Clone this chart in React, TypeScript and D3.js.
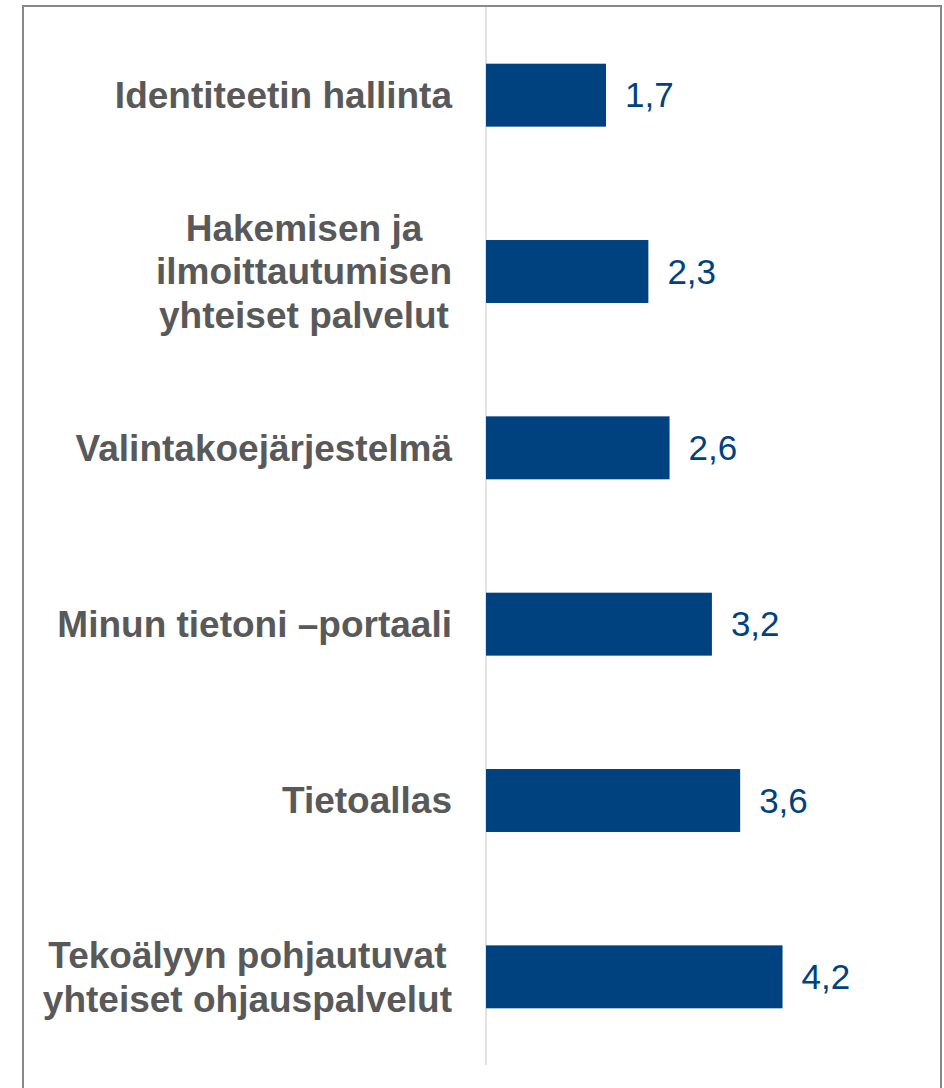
import React from "react";
import * as d3 from "d3";

const categories = [
  ["Identiteetin hallinta"],
  ["Hakemisen ja", "ilmoittautumisen", "yhteiset palvelut"],
  ["Valintakoejärjestelmä"],
  ["Minun tietoni –portaali"],
  ["Tietoallas"],
  ["Tekoälyyn pohjautuvat", "yhteiset ohjauspalvelut"],
];
const values = [1.7, 2.3, 2.6, 3.2, 3.6, 4.2];
const valueLabels = ["1,7", "2,3", "2,6", "3,2", "3,6", "4,2"];

const LABEL_FONT = "bold 37px 'Liberation Sans', Arial, sans-serif";
let ctx: CanvasRenderingContext2D | null = null;
function measure(s: string): number {
  if (!ctx) ctx = document.createElement("canvas").getContext("2d");
  if (!ctx) return s.length * 18;
  ctx.font = LABEL_FONT;
  return ctx.measureText(s).width;
}

export default function App() {
  const W = 944, H = 1088;
  const x0 = 486;
  const x = d3.scaleLinear().domain([0, 5]).range([x0, x0 + 353]);
  const ids = categories.map((_, i) => String(i));
  const y = d3.scaleBand().domain(ids).range([7, 1065]).paddingInner(0.643).paddingOuter(0.3215);
  const bw = y.bandwidth();
  const lh = 43.5;
  const right = 452;
  return (
    <svg width={W} height={H} style={{ position: "absolute", left: 0, top: 0, background: "#fff" }}
      fontFamily="'Liberation Sans', Arial, sans-serif">
      <rect x={23} y={6} width={918} height={1100} fill="#fff" stroke="#888" strokeWidth={2} />
      <line x1={x0} x2={x0} y1={7} y2={1065} stroke="#d9d9d9" strokeWidth={1.5} />
      {values.map((v, i) => {
        const yy = y(ids[i])!;
        const cy = yy + bw / 2;
        const lines = categories[i];
        const maxW = Math.max(...lines.map(measure));
        const cx = right - maxW / 2;
        return (
          <g key={i}>
            <rect x={x(0)} y={yy} width={x(v) - x(0)} height={bw} fill="#00427F" />
            <text x={x(v) + 19} y={cy} dy="0.35em" fontSize={35} fill="#00427F">{valueLabels[i]}</text>
            <text x={cx} y={cy} textAnchor="middle" fontSize={37} fontWeight="bold" fill="#595959">
              {lines.map((l, j) => (
                <tspan key={j} x={cx} y={cy + (j - (lines.length - 1) / 2) * lh} dy="0.35em">{l}</tspan>
              ))}
            </text>
          </g>
        );
      })}
    </svg>
  );
}
